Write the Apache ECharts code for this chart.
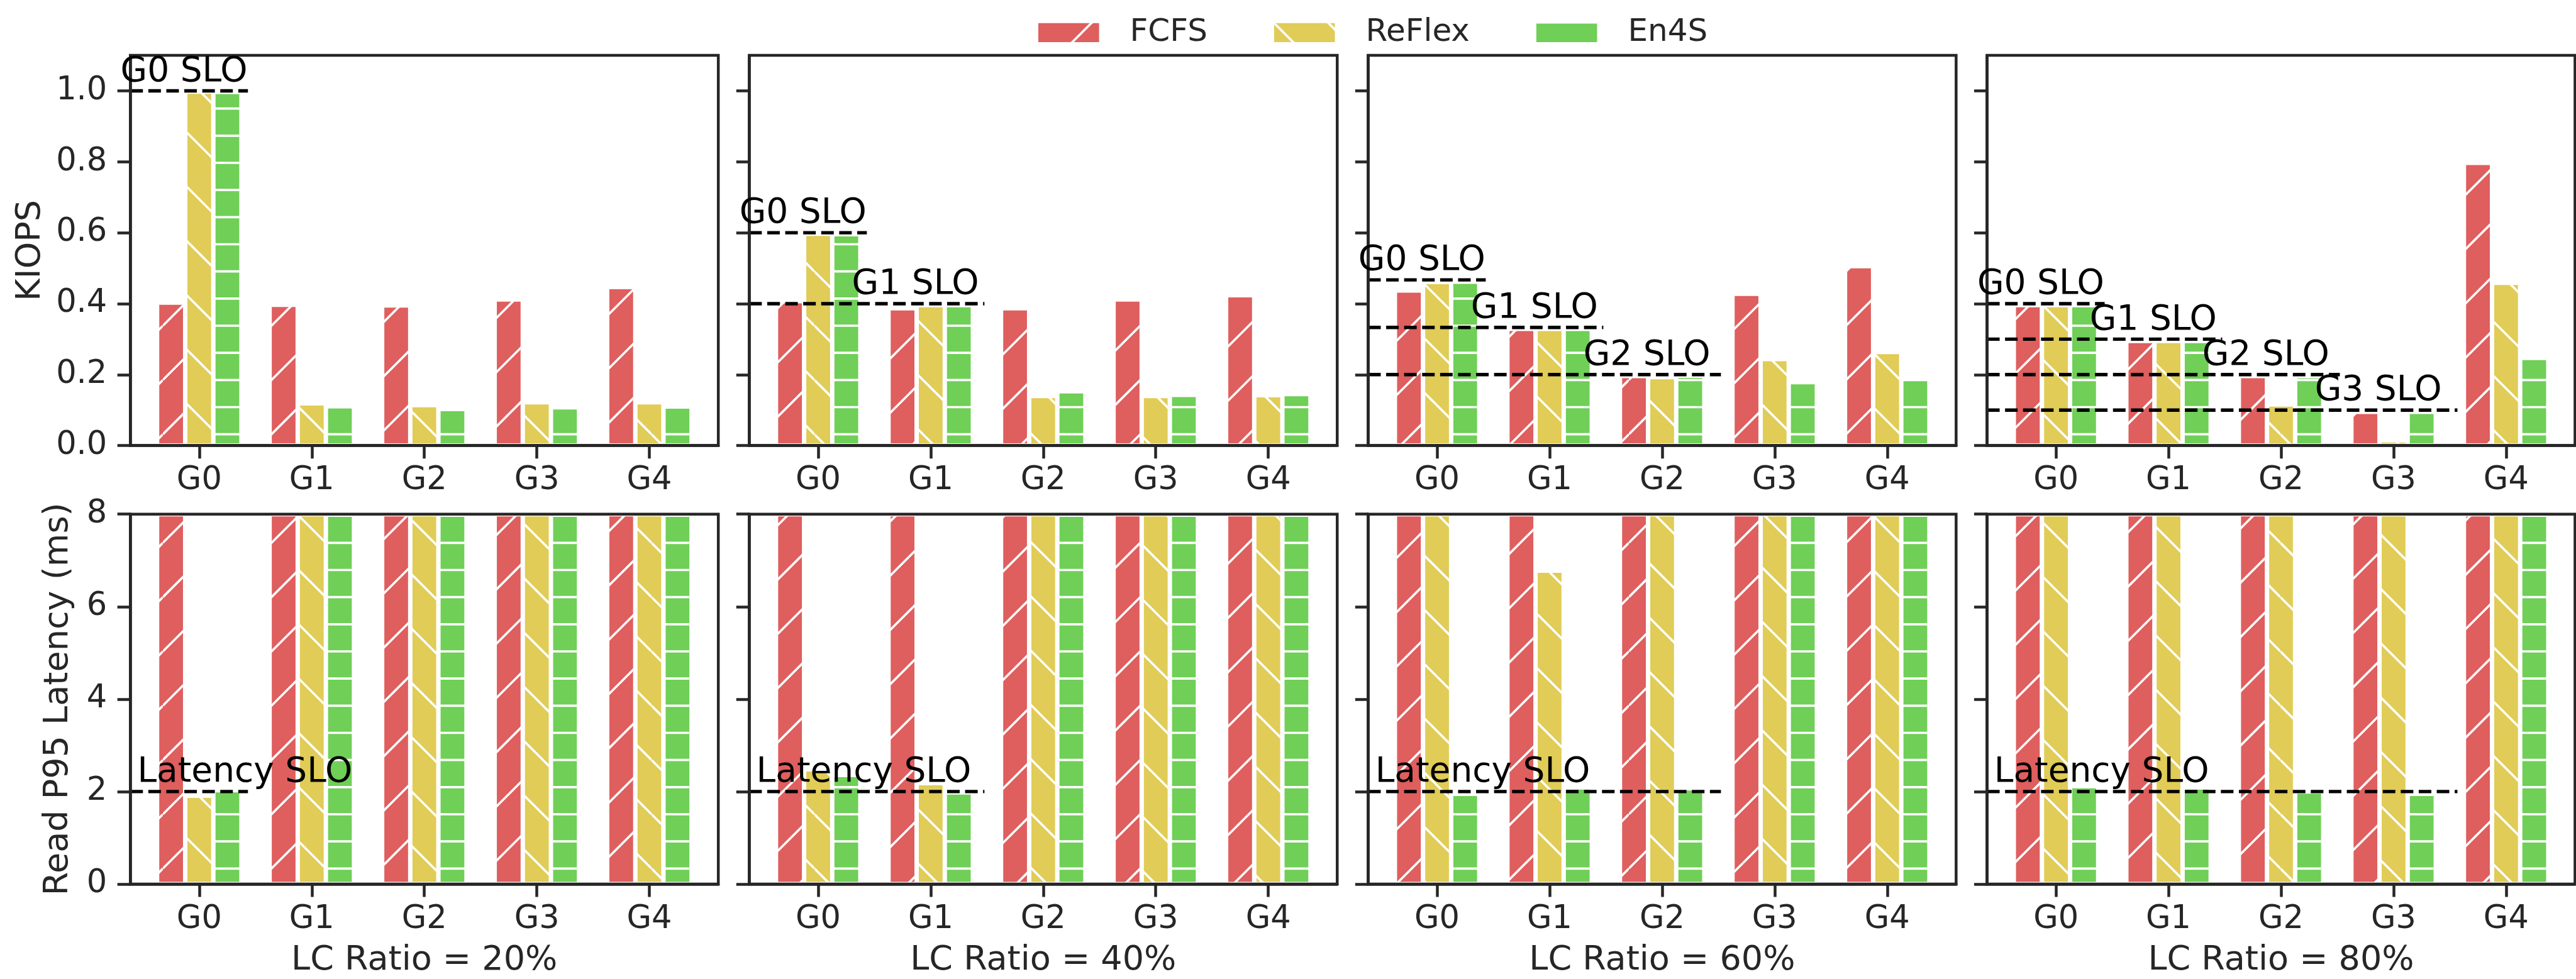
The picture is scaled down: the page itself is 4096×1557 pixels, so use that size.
<!DOCTYPE html>
<html>
<head>
<meta charset="utf-8">
<script src="https://cdn.jsdelivr.net/npm/echarts@6/dist/echarts.min.js"></script>
<style>
  html, body { margin: 0; padding: 0; background: #ffffff; }
  #chart { width: 4096px; height: 1557px; }
</style>
</head>
<body>
<div id="chart"></div>
<script>
// ---- data -------------------------------------------------------------
const GROUPS = ['G0', 'G1', 'G2', 'G3', 'G4'];
const METHODS = ['FCFS', 'ReFlex', 'En4S'];
const RATIO_LABELS = ['LC Ratio = 20%', 'LC Ratio = 40%', 'LC Ratio = 60%', 'LC Ratio = 80%'];
const KIOPS_TICKS = [0, 0.2, 0.4, 0.6, 0.8, 1.0];
const LATENCY_TICKS = [0, 2, 4, 6, 8];

// Throughput (KIOPS) per group; one row per LC ratio
const FCFS_KIOPS = [
  [0.403, 0.397, 0.395, 0.412, 0.447],
  [0.407, 0.387, 0.387, 0.412, 0.424],
  [0.437, 0.329, 0.196, 0.428, 0.506],
  [0.396, 0.295, 0.196, 0.095, 0.797]
];
const REFLEX_KIOPS = [
  [0.998, 0.119, 0.114, 0.122, 0.122],
  [0.597, 0.396, 0.140, 0.140, 0.142],
  [0.461, 0.329, 0.193, 0.244, 0.264],
  [0.396, 0.295, 0.116, 0.015, 0.459]
];
const EN4S_KIOPS = [
  [0.997, 0.111, 0.103, 0.108, 0.110],
  [0.596, 0.396, 0.153, 0.143, 0.145],
  [0.462, 0.329, 0.197, 0.179, 0.190],
  [0.396, 0.295, 0.196, 0.095, 0.247]
];
// Throughput SLO of each latency-critical group, per LC ratio
const KIOPS_SLO = [
  [1.0],
  [0.6, 0.4],
  [0.467, 0.333, 0.2],
  [0.4, 0.3, 0.2, 0.1]
];

// Read P95 latency (ms); 8 = runs past the 8 ms axis top
const FCFS_LATENCY = [
  [8, 8, 8, 8, 8],
  [8, 8, 8, 8, 8],
  [8, 8, 8, 8, 8],
  [8, 8, 8, 8, 8]
];
const REFLEX_LATENCY = [
  [1.91, 8, 8, 8, 8],
  [2.48, 2.18, 8, 8, 8],
  [8, 6.78, 8, 8, 8],
  [8, 8, 8, 8, 8]
];
const EN4S_LATENCY = [
  [2.03, 8, 8, 8, 8],
  [2.36, 1.98, 8, 8, 8],
  [1.95, 2.09, 2.07, 8, 8],
  [2.13, 2.09, 2.00, 1.95, 8]
];
const LATENCY_SLO = 2;
const LC_GROUP_COUNT = [1, 2, 3, 4];

// ---- layout & style ----------------------------------------------------
const FONT = '"DejaVu Sans", "Noto Sans", sans-serif';
const INK = '#262626';
const COLORS = ['#DF5E5E', '#E0CC57', '#6FCF57'];
const HATCH = ['/', '\\', '-'];

const PANEL_LEFT = 207.25, PANEL_PITCH = 984.1, PANEL_W = 934.9;
const ROWS = [
  { top: 88.1, height: 620.5 },
  { top: 817.7, height: 588.2 }
];
const X_MIN = -0.6125, X_MAX = 4.6125;
const BAR_UNITS = 0.25;
const BAR_PX = PANEL_W / (X_MAX - X_MIN) * BAR_UNITS;
const SPINE = 4.5;

// matplotlib-style hatch tiles: one inch unit square, white strokes
function hatchFill(kind, color) {
  const U = 259;
  const cv = document.createElement('canvas');
  cv.width = U; cv.height = U;
  const g = cv.getContext('2d');
  g.fillStyle = color;
  g.fillRect(0, 0, U, U);
  g.strokeStyle = '#ffffff';
  g.lineWidth = 3.6;
  g.beginPath();
  if (kind === '-') {
    for (let k = 0; k <= 6; k++) { const y = k * U / 6; g.moveTo(0, y); g.lineTo(U, y); }
  } else if (kind === '/') {
    for (let k = -1; k <= 7; k++) { const c = k * U / 3; g.moveTo(0, c); g.lineTo(U, c - U); }
  } else {
    for (let k = -4; k <= 4; k++) { const c = k * U / 3; g.moveTo(0, c); g.lineTo(U, c + U); }
  }
  g.stroke();
  return { image: cv, repeat: 'repeat' };
}
const FILLS = METHODS.map((m, i) => hatchFill(HATCH[i], COLORS[i]));

const grids = [], xAxes = [], yAxes = [], series = [], graphics = [];

function addPanel(row, p) {
  const idx = grids.length;
  grids.push({
    left: PANEL_LEFT + p * PANEL_PITCH,
    top: ROWS[row].top,
    width: PANEL_W,
    height: ROWS[row].height,
    show: true,
    borderColor: INK,
    borderWidth: SPINE,
    backgroundColor: 'transparent',
    z: 5
  });
  xAxes.push({
    gridIndex: idx, type: 'value', min: X_MIN, max: X_MAX,
    z: 6,
    axisLine: { show: true, onZero: false, lineStyle: { color: INK, width: SPINE } },
    axisTick: { show: true, length: 20.6, lineStyle: { color: INK, width: SPINE }, customValues: [0, 1, 2, 3, 4] },
    axisLabel: {
      show: true, margin: 31, color: INK, fontFamily: FONT, fontSize: 51, lineHeight: 51,
      customValues: [0, 1, 2, 3, 4],
      formatter: v => GROUPS[Math.round(v)]
    },
    splitLine: { show: false }
  });
  const ticks = row === 0 ? KIOPS_TICKS : LATENCY_TICKS;
  yAxes.push({
    gridIndex: idx, type: 'value', min: 0, max: row === 0 ? 1.1 : 8,
    z: 6,
    axisLine: { show: true, onZero: false, lineStyle: { color: INK, width: SPINE } },
    axisTick: { show: true, length: 20.6, lineStyle: { color: INK, width: SPINE }, customValues: ticks },
    axisLabel: {
      show: p === 0, margin: 37, color: INK, fontFamily: FONT, fontSize: 51,
      customValues: ticks,
      formatter: v => row === 0 ? v.toFixed(1) : String(v)
    },
    splitLine: { show: false }
  });

  const tables = row === 0
    ? [FCFS_KIOPS, REFLEX_KIOPS, EN4S_KIOPS]
    : [FCFS_LATENCY, REFLEX_LATENCY, EN4S_LATENCY];
  METHODS.forEach((name, m) => {
    series.push({
      type: 'bar', name: name, xAxisIndex: idx, yAxisIndex: idx,
      data: tables[m][p].map((v, i) => [i, v]),
      barWidth: BAR_PX, barGap: '0%',
      itemStyle: { color: FILLS[m], borderColor: '#ffffff', borderWidth: 3.5 },
      silent: true, animation: false, z: 2
    });
  });

  // SLO reference lines and their captions
  const span = X_MAX - X_MIN;
  const lines = row === 0
    ? KIOPS_SLO[p].map((s, g) => ({ y: s, frac: (g + 1) / 5, tx: g - 0.7, text: GROUPS[g] + ' SLO' }))
    : [{ y: LATENCY_SLO, frac: LC_GROUP_COUNT[p] / 5, tx: -0.55, text: 'Latency SLO' }];
  lines.forEach(l => {
    series.push({
      type: 'line', xAxisIndex: idx, yAxisIndex: idx,
      data: [[X_MIN, l.y], [X_MIN + l.frac * span, l.y]],
      symbol: 'none', showSymbol: false,
      lineStyle: { color: '#000000', width: 5.4, type: [20, 8.6], cap: 'butt' },
      silent: true, animation: false, z: 4
    });
  });
  series.push({
    type: 'custom', xAxisIndex: idx, yAxisIndex: idx,
    data: lines.map(l => [l.tx, l.y]),
    renderItem: (params, api) => {
      const pt = api.coord([api.value(0), api.value(1)]);
      return {
        type: 'text', x: pt[0], y: pt[1] - 30,
        style: {
          text: lines[params.dataIndex].text, fill: '#000000',
          font: '55px ' + FONT, align: 'left', verticalAlign: 'middle'
        }
      };
    },
    silent: true, animation: false, z: 8
  });
}

for (let row = 0; row < 2; row++) {
  for (let p = 0; p < 4; p++) addPanel(row, p);
}

// axis titles
graphics.push({
  type: 'text', x: 48.5, y: ROWS[0].top + ROWS[0].height / 2, rotation: Math.PI / 2,
  style: { text: 'KIOPS', fill: INK, font: '54px ' + FONT, align: 'center', verticalAlign: 'middle' }
});
graphics.push({
  type: 'text', x: 93, y: ROWS[1].top + ROWS[1].height / 2, rotation: Math.PI / 2,
  style: { text: 'Read P95 Latency (ms)', fill: INK, font: '54px ' + FONT, align: 'center', verticalAlign: 'middle' }
});
RATIO_LABELS.forEach((t, p) => {
  graphics.push({
    type: 'text', x: PANEL_LEFT + p * PANEL_PITCH + PANEL_W / 2, y: 1528,
    style: { text: t, fill: INK, font: '54px ' + FONT, align: 'center', verticalAlign: 'middle' }
  });
});

const chart = echarts.init(document.getElementById('chart'), null, { renderer: 'canvas' });
chart.setOption({
  animation: false,
  backgroundColor: '#ffffff',
  legend: {
    data: METHODS, left: 1644, top: 21.8,
    icon: 'rect', itemWidth: 98.6, itemHeight: 32.3, itemGap: 104,
    selectedMode: false,
    textStyle: { color: INK, fontFamily: FONT, fontSize: 50, padding: [0, 0, 0, 43] }
  },
  grid: grids,
  xAxis: xAxes,
  yAxis: yAxes,
  series: series,
  graphic: graphics
});
</script>
</body>
</html>
